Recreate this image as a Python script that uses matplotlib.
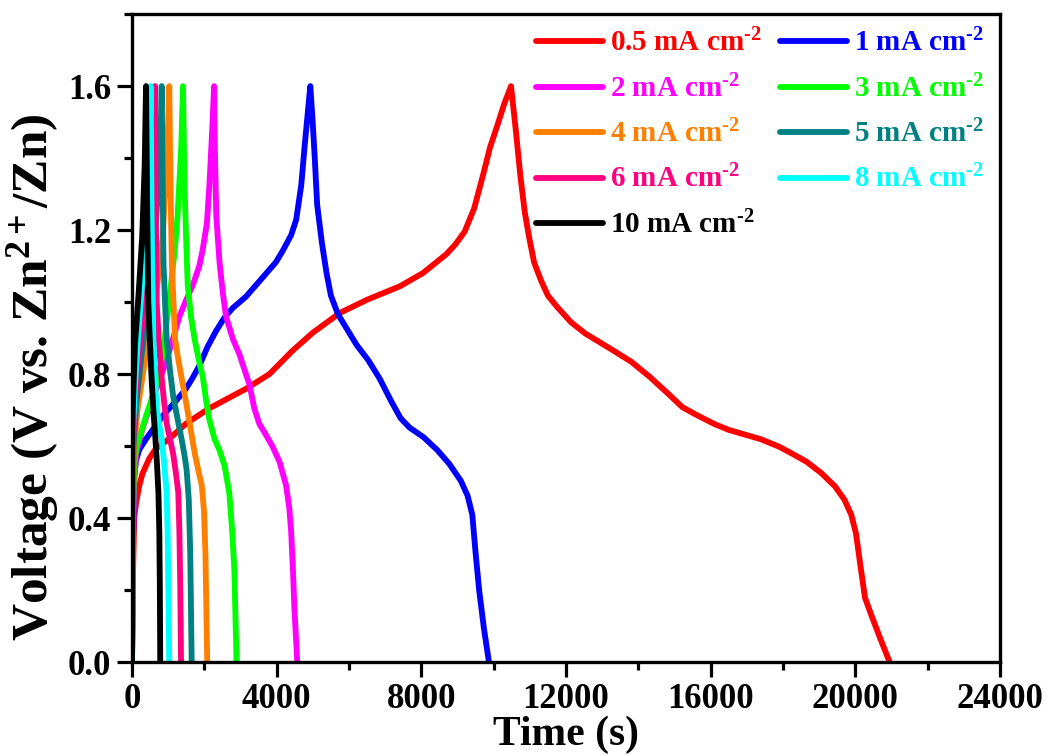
import numpy as np
import matplotlib
matplotlib.use("Agg")
import matplotlib.pyplot as plt
from matplotlib.ticker import MultipleLocator

plt.rcParams['font.family'] = ['Liberation Serif', 'DejaVu Serif']
plt.rcParams['font.weight'] = 'bold'
plt.rcParams['mathtext.fontset'] = 'custom'
plt.rcParams['mathtext.rm'] = 'Liberation Serif:bold'
plt.rcParams['mathtext.it'] = 'Liberation Serif:bold:italic'
plt.rcParams['mathtext.bf'] = 'Liberation Serif:bold'

## GCD data (time in s, voltage in V)

labels = ["0.5", "1", "2", "3", "4", "5", "6", "8", "10"]
colors = ["#ff0000", "#0000ff", "#ff00ff", "#00ff00", "#ff8000",
          "#008080", "#ff0080", "#00ffff", "#000000"]

t_05 = [0, 30, 60, 110, 200, 290, 480, 660, 1030, 1490, 2140, 3150, 3800, 4440, 5000,
        5750, 6510, 7410, 8050, 8690, 8940, 9200, 9460, 9710, 9900, 10100, 10290, 10480,
        10610, 10740, 10860, 10990, 11120, 11310, 11500, 11760, 12140, 12530, 13300, 13810,
        14320, 14830, 15220, 15600, 16110, 16500, 17390, 17900, 18290, 18660, 19060, 19440,
        19700, 19890, 20020, 20150, 20270, 20460, 20700, 20950]
v_05 = [0, 0.26, 0.40, 0.44, 0.49, 0.524, 0.566, 0.593, 0.62, 0.662, 0.705, 0.759, 0.80, 0.865, 0.915,
        0.97, 1.007, 1.044, 1.081, 1.133, 1.16, 1.196, 1.26, 1.354, 1.43, 1.49, 1.55, 1.60,
        1.48, 1.35, 1.25, 1.175, 1.11, 1.06, 1.018, 0.986, 0.944, 0.913, 0.866, 0.834,
        0.792, 0.745, 0.708, 0.687, 0.661, 0.645, 0.619, 0.598, 0.577, 0.556, 0.525, 0.488,
        0.451, 0.409, 0.357, 0.262, 0.178, 0.126, 0.063, 0]

t_1 = [0, 30, 60, 110, 200, 390, 850, 1220, 1490, 1680, 1860, 2090, 2320, 2550, 2780, 3150,
       3610, 3980, 4170, 4400, 4540, 4680, 4770, 4860, 4930,
       4990, 5050, 5120, 5250, 5380, 5500, 5700, 5890, 6210, 6530, 6850, 7170, 7430, 7680,
       8070, 8450, 8770, 9090, 9280, 9410, 9500, 9600, 9730, 9870]
v_1 = [0, 0.35, 0.513, 0.56, 0.59, 0.62, 0.684, 0.726, 0.759, 0.79, 0.823, 0.876, 0.919, 0.956, 0.983, 1.015,
       1.068, 1.111, 1.143, 1.186, 1.229, 1.325, 1.43, 1.526, 1.60,
       1.51, 1.406, 1.27, 1.165, 1.08, 1.018, 0.965, 0.934, 0.881, 0.839, 0.787, 0.724, 0.677, 0.651,
       0.624, 0.588, 0.551, 0.504, 0.462, 0.409, 0.304, 0.199, 0.094, 0]

t_2 = [0, 30, 60, 110, 300, 480, 710, 940, 1130, 1310, 1490, 1680, 1860, 1950, 2070, 2140, 2210, 2270,
       2290, 2330, 2420, 2510, 2600, 2790, 2970, 3110, 3250, 3380, 3520, 3710, 3890, 4080, 4260,
       4350, 4400, 4450, 4490, 4570]
v_2 = [0, 0.363, 0.50, 0.577, 0.652, 0.705, 0.77, 0.833, 0.897, 0.96, 1.004, 1.047, 1.10, 1.143, 1.218, 1.325, 1.464, 1.60,
       1.43, 1.24, 1.11, 1.026, 0.96, 0.897, 0.855, 0.812, 0.77, 0.705, 0.662, 0.63, 0.598, 0.556, 0.491,
       0.427, 0.363, 0.256, 0.15, 0]

t_3 = [0, 30, 60, 130, 390, 670, 850, 1030, 1170, 1260, 1360, 1410,
       1450, 1500, 1540, 1630, 1730, 1860, 1960, 2050, 2140, 2280, 2420, 2560, 2690, 2770, 2830, 2890]
v_3 = [0, 0.417, 0.55, 0.598, 0.684, 0.77, 0.855, 1.004, 1.133, 1.24, 1.43, 1.60,
       1.325, 1.164, 1.047, 0.96, 0.897, 0.833, 0.79, 0.726, 0.673, 0.62, 0.588, 0.545, 0.47, 0.363, 0.256, 0]

t_4 = [0, 25, 50, 150, 300, 550, 700, 850, 950, 1000, 1030,
       1060, 1100, 1190, 1280, 1370, 1470, 1560, 1650, 1740, 1840, 1930, 1990, 2030, 2080]
v_4 = [0, 0.45, 0.58, 0.70, 0.80, 0.95, 1.05, 1.18, 1.38, 1.50, 1.60,
       1.35, 1.11, 0.897, 0.84, 0.79, 0.735, 0.684, 0.63, 0.577, 0.53, 0.49, 0.42, 0.30, 0]

t_5 = [0, 20, 40, 120, 260, 450, 650, 780, 820,
       845, 870, 920, 960, 1050, 1140, 1260, 1370, 1450, 1510, 1570, 1610, 1650]
v_5 = [0, 0.45, 0.60, 0.72, 0.85, 1.00, 1.20, 1.42, 1.60,
       1.35, 1.11, 0.98, 0.897, 0.81, 0.737, 0.675, 0.62, 0.575, 0.534, 0.45, 0.30, 0]

t_6 = [0, 18, 35, 100, 220, 380, 520, 610, 636,
       655, 680, 750, 820, 890, 960, 1050, 1140, 1220, 1280, 1310, 1335, 1355]
v_6 = [0, 0.48, 0.62, 0.75, 0.88, 1.03, 1.22, 1.45, 1.60,
       1.30, 1.00, 0.88, 0.79, 0.72, 0.662, 0.62, 0.577, 0.52, 0.47, 0.36, 0.20, 0]

t_8 = [0, 15, 30, 90, 180, 300, 420, 495, 516,
       540, 590, 635, 680, 750, 820, 890, 960, 985, 1005, 1030]
v_8 = [0, 0.50, 0.65, 0.78, 0.92, 1.08, 1.28, 1.48, 1.60,
       1.25, 0.897, 0.79, 0.705, 0.66, 0.62, 0.55, 0.47, 0.36, 0.20, 0]

t_10 = [0, 10, 20, 80, 180, 280, 350, 387,
        415, 450, 495, 540, 590, 640, 690, 730, 755, 770, 780]
v_10 = [0, 0.55, 0.70, 0.88, 1.02, 1.18, 1.38, 1.60,
        1.30, 1.00, 0.89, 0.79, 0.70, 0.63, 0.55, 0.47, 0.36, 0.20, 0]

times = [t_05, t_1, t_2, t_3, t_4, t_5, t_6, t_8, t_10]
volts = [v_05, v_1, v_2, v_3, v_4, v_5, v_6, v_8, v_10]

fig = plt.figure(figsize=(10.52, 7.56), dpi=100)
ax = fig.add_axes([0.1255, 0.1243, 0.825, 0.857])

handles = []
for t, v, lab, c in zip(times, volts, labels, colors):
    line, = ax.plot(t, v, color=c, lw=4.2, solid_joinstyle='round', solid_capstyle='round',
                    label=lab + r" mA cm$^{\text{-2}}$")
    handles.append(line)

ax.set_xlim(0, 24000)
ax.set_ylim(0, 1.8)
ax.xaxis.set_major_locator(MultipleLocator(4000))
ax.xaxis.set_minor_locator(MultipleLocator(2000))
ax.yaxis.set_major_locator(MultipleLocator(0.4))
ax.yaxis.set_minor_locator(MultipleLocator(0.2))
ax.yaxis.set_major_formatter(plt.FuncFormatter(lambda y, p: "%.1f" % y))
ax.tick_params(which='major', direction='out', length=11, width=2.3, labelsize=25, pad=4)
ax.tick_params(which='minor', direction='out', length=6, width=2.3)
for s in ax.spines.values():
    s.set_linewidth(2.4)

ax.set_xlabel("Time (s)", fontsize=30, fontweight='bold', labelpad=0)
ax.set_ylabel(r"Voltage (V vs. Zn$^{\mathrm{2+}}$/Zn)", fontsize=37, fontweight='bold')
ax.yaxis.set_label_coords(-0.082, 0.44)

# legend order: row-wise 0.5,1 / 2,3 / 4,5 / 6,8 / 10
order = [0, 2, 4, 6, 8, 1, 3, 5, 7]
leg = ax.legend([handles[i] for i in order], [handles[i].get_label() for i in order],
                ncol=2, loc='upper right', bbox_to_anchor=(0.995, 0.995), frameon=False,
                fontsize=21, handlelength=2.3, handletextpad=0.25, columnspacing=0.6,
                labelspacing=0.58, borderaxespad=0)
for txt, i in zip(leg.get_texts(), order):
    txt.set_color(colors[i])

plt.savefig("out.png", dpi=100)
